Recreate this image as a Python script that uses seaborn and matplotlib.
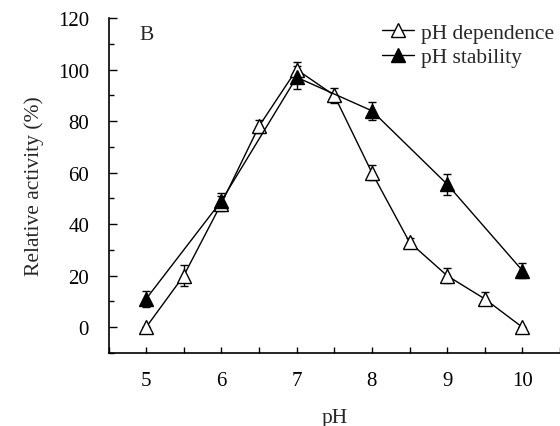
import pandas as pd
import matplotlib
matplotlib.use("Agg")
import matplotlib.pyplot as plt
import matplotlib.ticker as mtick
import seaborn as sns

# data
ph_dep = [5, 5.5, 6, 6.5, 7, 7.5, 8, 8.5, 9, 9.5, 10]
act_dep = [0, 20, 48, 78, 100, 90, 60, 33, 20, 11, 0]
err_dep = [0, 4, 3, 2.5, 3, 3, 3, 1.5, 3, 2.5, 0]

ph_stab = [5, 6, 7, 8, 9, 10]
act_stab = [11, 49, 97, 84, 55.5, 22]
err_stab = [3, 3, 4.5, 3.5, 4, 3]

sns.set_theme(style="ticks")
plt.rcParams['font.family'] = ['Liberation Serif', 'DejaVu Serif']

fig = plt.figure(figsize=(5.6, 4.27), dpi=100)
ax = fig.add_axes([108.5 / 560, 1 - 354 / 427, (560 - 108.5) / 560, (354 - 19) / 427])

df_dep = pd.DataFrame({"pH": ph_dep, "act": act_dep})
df_stab = pd.DataFrame({"pH": ph_stab, "act": act_stab})

ax.errorbar(ph_dep, act_dep, yerr=err_dep, fmt="none", ecolor="black",
            elinewidth=1, capsize=3, capthick=1, zorder=2)
ax.errorbar(ph_stab, act_stab, yerr=err_stab, fmt="none", ecolor="black",
            elinewidth=1, capsize=3, capthick=1, zorder=2)

sns.lineplot(data=df_dep, x="pH", y="act", ax=ax, color="black", lw=1,
             marker="^", markersize=9.5, markerfacecolor="white",
             markeredgecolor="black", markeredgewidth=1,
             label="pH dependence", zorder=3)
sns.lineplot(data=df_stab, x="pH", y="act", ax=ax, color="black", lw=1,
             marker="^", markersize=9.5, markerfacecolor="black",
             markeredgecolor="black", markeredgewidth=1,
             label="pH stability", zorder=3)

ax.set_xlim(4.5, 10.5)
ax.set_ylim(-10, 120)
ax.set_xticks([5, 6, 7, 8, 9, 10])
ax.xaxis.set_minor_locator(mtick.MultipleLocator(0.5))
ax.set_yticks([0, 20, 40, 60, 80, 100, 120])
ax.yaxis.set_minor_locator(mtick.MultipleLocator(10))

ax.tick_params(axis="both", which="both", direction="in", color="black",
               labelsize=15, labelcolor="black")
ax.tick_params(axis="y", which="major", length=6, width=1, pad=14)
ax.tick_params(axis="y", which="minor", length=3.5, width=1)
ax.tick_params(axis="x", which="major", length=4.5, width=1, pad=13)
ax.tick_params(axis="x", which="minor", length=4.5, width=1)

sns.despine(ax=ax)
for s in ["left", "bottom"]:
    ax.spines[s].set_color("black")
    ax.spines[s].set_linewidth(1.2)
ax.spines["left"].set_bounds(-10, 120)

ax.set_xlabel("pH", fontsize=15.5, labelpad=13)
ax.set_ylabel("Relative activity (%)", fontsize=15.5, labelpad=10)

ax.text(5, 113.5, "B", fontsize=15.5, ha="center", va="center")

leg = ax.legend(loc="upper right", bbox_to_anchor=(1.005, 1.012), frameon=False,
                fontsize=15.5, handlelength=1.5, handletextpad=0.3,
                labelspacing=0.2, borderaxespad=0)

fig.savefig("out.png", dpi=100)
